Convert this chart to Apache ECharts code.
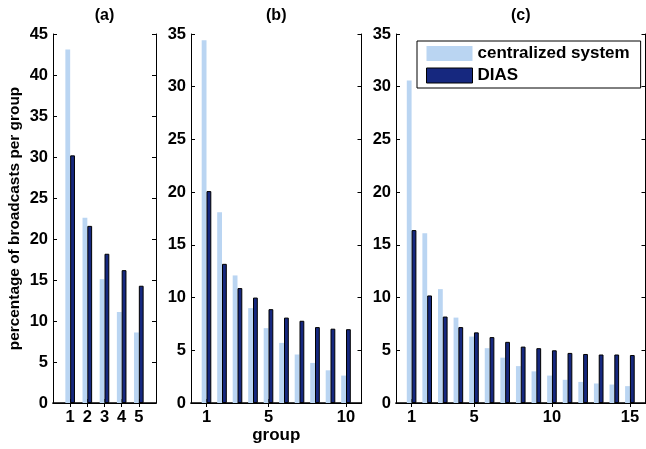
<!DOCTYPE html>
<html>
<head>
<meta charset="utf-8">
<script src="https://cdn.jsdelivr.net/npm/echarts@6/dist/echarts.min.js"></script>
<style>
html,body{margin:0;padding:0;background:#fff;}
#chart{width:646px;height:449px;}
</style>
</head>
<body>
<div id="chart"></div>
<script>
// ---- data ----
const seriesNames = ['centralized system', 'DIAS'];
const panelTitles = ['(a)', '(b)', '(c)'];

const groupsA = [1, 2, 3, 4, 5];
const centralA = [43.1, 22.6, 15.1, 11.1, 8.6];
const diasA = [30.2, 21.6, 18.2, 16.2, 14.3];

const groupsB = [1, 2, 3, 4, 5, 6, 7, 8, 9, 10];
const centralB = [34.4, 18.1, 12.1, 9.0, 7.1, 5.7, 4.6, 3.8, 3.1, 2.6];
const diasB = [20.1, 13.2, 10.9, 10.0, 8.9, 8.1, 7.8, 7.2, 7.05, 7.0];

const groupsC = [1, 2, 3, 4, 5, 6, 7, 8, 9, 10, 11, 12, 13, 14, 15];
const centralC = [30.6, 16.1, 10.8, 8.1, 6.3, 5.2, 4.3, 3.5, 3.0, 2.6, 2.2, 2.0, 1.85, 1.75, 1.6];
const diasC = [16.4, 10.2, 8.2, 7.2, 6.7, 6.25, 5.8, 5.35, 5.2, 5.0, 4.75, 4.65, 4.6, 4.6, 4.55];

const xTicksA = [1, 2, 3, 4, 5];
const xTicksB = [1, 5, 10];
const xTicksC = [1, 5, 10, 15];
const xRangeA = [0, 6];
const xRangeB = [0, 11];
const xRangeC = [0, 16];
const yMaxA = 45, yMaxB = 35, yMaxC = 35;
const yInterval = 5;

const yLabel = 'percentage of broadcasts per group';
const xLabel = 'group';

// ---- styles ----
const FONT = 'Liberation Sans';
const lightColor = '#bad5f2';
const darkColor = '#16287f';

const panels = [
  {groups: groupsA, c: centralA, d: diasA, ticks: xTicksA, range: xRangeA, ymax: yMaxA,
   grid: {left: 53, top: 34, width: 103, height: 369}},
  {groups: groupsB, c: centralB, d: diasB, ticks: xTicksB, range: xRangeB, ymax: yMaxB,
   grid: {left: 191, top: 34, width: 170.5, height: 369}},
  {groups: groupsC, c: centralC, d: diasC, ticks: xTicksC, range: xRangeC, ymax: yMaxC,
   grid: {left: 396, top: 34, width: 249.5, height: 369}}
];

const grids = [], xAxes = [], yAxes = [], series = [], graphics = [];

panels.forEach((p, i) => {
  grids.push(Object.assign({containLabel: false}, p.grid));
  const cats = [];
  for (let v = p.range[0]; v <= p.range[1]; v++) cats.push(String(v));
  const showTick = (idx, val) => p.ticks.indexOf(Number(val)) >= 0;
  // bottom
  xAxes.push({
    type: 'category', gridIndex: i, data: cats, boundaryGap: false, position: 'bottom',
    axisLine: {show: true, lineStyle: {color: '#000', width: 1.6}},
    axisTick: {show: true, inside: true, length: 4, interval: showTick, lineStyle: {color: '#000'}},
    axisLabel: {show: true, interval: showTick, margin: 6, color: '#000', fontFamily: FONT, fontWeight: 'bold', fontSize: 16.5},
    splitLine: {show: false},
    name: i === 1 ? xLabel : '', nameLocation: 'middle', nameGap: 24, nameMoveOverlap: false,
    nameTextStyle: {color: '#000', fontFamily: FONT, fontWeight: 'bold', fontSize: 17}
  });
  // top (box)
  xAxes.push({
    type: 'category', gridIndex: i, data: cats, boundaryGap: false, position: 'top',
    axisLine: {show: true, lineStyle: {color: '#000', width: 1}},
    axisTick: {show: true, inside: true, length: 4, interval: showTick, lineStyle: {color: '#000'}},
    axisLabel: {show: false}, splitLine: {show: false}
  });
  // left
  yAxes.push({
    type: 'value', gridIndex: i, min: 0, max: p.ymax, interval: yInterval, position: 'left',
    axisLine: {show: true, lineStyle: {color: '#000', width: 1}},
    axisTick: {show: true, inside: true, length: 4, lineStyle: {color: '#000'}},
    axisLabel: {show: true, margin: 5, color: '#000', fontFamily: FONT, fontWeight: 'bold', fontSize: 16.5},
    splitLine: {show: false},
    name: i === 0 ? yLabel : '', nameLocation: 'middle', nameGap: 31, nameRotate: 90, nameMoveOverlap: false,
    nameTextStyle: {color: '#000', fontFamily: FONT, fontWeight: 'bold', fontSize: 15.4}
  });
  // right (box)
  yAxes.push({
    type: 'value', gridIndex: i, min: 0, max: p.ymax, interval: yInterval, position: 'right',
    axisLine: {show: true, lineStyle: {color: '#000', width: 1}},
    axisTick: {show: true, inside: true, length: 4, lineStyle: {color: '#000'}},
    axisLabel: {show: false}, splitLine: {show: false}
  });
  const lookup = (arr) => cats.map(v => {
    const k = p.groups.indexOf(Number(v));
    return k >= 0 ? arr[k] : '-';
  });
  series.push({
    name: seriesNames[0], type: 'bar', xAxisIndex: 2 * i, yAxisIndex: 2 * i,
    data: lookup(p.c), barWidth: 4.8, barGap: '0%',
    itemStyle: {color: lightColor}, silent: true, animation: false
  });
  series.push({
    name: seriesNames[1], type: 'bar', xAxisIndex: 2 * i, yAxisIndex: 2 * i,
    data: lookup(p.d), barWidth: 4.8, barGap: '0%',
    itemStyle: {color: darkColor, borderColor: '#000', borderWidth: 1}, silent: true, animation: false
  });
  graphics.push({
    type: 'text', x: p.grid.left + p.grid.width / 2, y: 8,
    style: {text: panelTitles[i], textAlign: 'center', fill: '#000', font: 'bold 16px "' + FONT + '"'}
  });
});

const chart = echarts.init(document.getElementById('chart'), null, {renderer: 'canvas'});
chart.setOption({
  animation: false,
  backgroundColor: '#fff',
  grid: grids,
  xAxis: xAxes,
  yAxis: yAxes,
  series: series,
  graphic: graphics,
  legend: {
    data: [
      {name: seriesNames[0], itemStyle: {color: lightColor, borderWidth: 0}},
      {name: seriesNames[1], itemStyle: {color: darkColor, borderColor: '#000', borderWidth: 1}}
    ],
    orient: 'vertical', left: 417, top: 41,
    itemWidth: 46, itemHeight: 15, itemGap: 5,
    icon: 'rect',
    padding: [4, 11, 4, 9],
    borderColor: '#000', borderWidth: 1, backgroundColor: '#fff',
    textStyle: {color: '#000', fontFamily: FONT, fontWeight: 'bold', fontSize: 17, lineHeight: 15},
    selectedMode: false
  }
});
</script>
</body>
</html>
